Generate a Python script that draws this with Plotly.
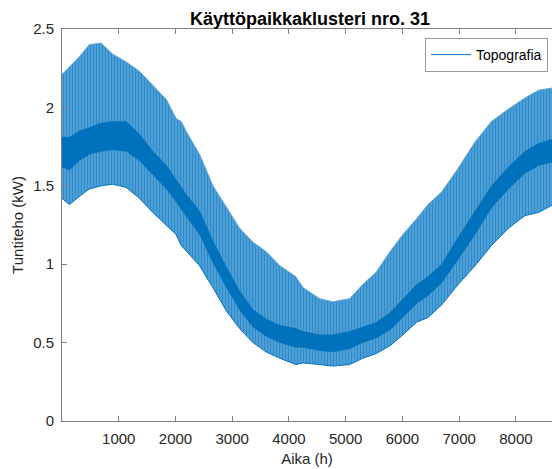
import plotly.graph_objects as go

# Hours (h) at which the envelope of the hourly load was read
hours = [0, 130, 300, 480, 690, 890, 1130, 1365, 1600, 1840, 2010, 2100, 2200,
         2425, 2660, 2900, 3130, 3365, 3600, 3840, 4120, 4250, 4540, 4770, 5070,
         5300, 5540, 5780, 6010, 6250, 6450, 6690, 6980, 7280, 7570, 7870, 8160,
         8400, 8760]
# Daily peaks (upper envelope), kW
upper = [2.21, 2.26, 2.32, 2.40, 2.41, 2.34, 2.29, 2.23, 2.14, 2.05, 1.93, 1.91, 1.84,
         1.70, 1.50, 1.36, 1.23, 1.14, 1.08, 0.99, 0.92, 0.85, 0.78, 0.76, 0.78,
         0.87, 0.95, 1.08, 1.19, 1.29, 1.38, 1.46, 1.61, 1.78, 1.91, 1.99, 2.06,
         2.11, 2.13]
# Daily minima (lower envelope), kW
lower = [1.42, 1.38, 1.43, 1.48, 1.50, 1.51, 1.49, 1.42, 1.33, 1.25, 1.19, 1.12, 1.08,
         0.99, 0.85, 0.70, 0.59, 0.50, 0.44, 0.40, 0.36, 0.37, 0.36, 0.35, 0.36,
         0.40, 0.43, 0.48, 0.55, 0.63, 0.66, 0.74, 0.87, 0.99, 1.12, 1.23, 1.31,
         1.33, 1.40]
# Dense core of the load (typical level), kW
core_hi = [1.81, 1.81, 1.85, 1.87, 1.90, 1.91, 1.91, 1.83, 1.72, 1.63, 1.54, 1.49, 1.44,
           1.34, 1.15, 0.98, 0.83, 0.71, 0.65, 0.61, 0.59, 0.57, 0.55, 0.55, 0.57,
           0.60, 0.63, 0.69, 0.78, 0.87, 0.92, 1.00, 1.17, 1.34, 1.50, 1.62, 1.72,
           1.77, 1.81]
core_lo = [1.62, 1.60, 1.66, 1.70, 1.72, 1.73, 1.72, 1.66, 1.57, 1.48, 1.40, 1.35, 1.30,
           1.19, 1.01, 0.85, 0.71, 0.60, 0.54, 0.50, 0.47, 0.47, 0.45, 0.44, 0.46,
           0.50, 0.53, 0.58, 0.66, 0.75, 0.80, 0.88, 1.03, 1.19, 1.36, 1.48, 1.58,
           1.63, 1.66]

BLUE = "#0072BD"
LIGHT = "rgb(92,166,216)"

fig = go.Figure()
fig.add_trace(go.Scatter(x=hours, y=lower, mode="lines", name="Topografia",
                         line=dict(color=BLUE, width=1), showlegend=True))
fig.add_trace(go.Scatter(x=hours, y=upper, mode="lines", fill="tonexty",
                         fillcolor=LIGHT,
                         fillpattern=dict(shape="|", fgcolor=BLUE, bgcolor=LIGHT,
                                          size=3, solidity=0.55),
                         line=dict(color=LIGHT, width=1),
                         showlegend=False))
fig.add_trace(go.Scatter(x=hours, y=core_lo, mode="lines",
                         line=dict(color=BLUE, width=0.5), showlegend=False))
fig.add_trace(go.Scatter(x=hours, y=core_hi, mode="lines", fill="tonexty",
                         fillcolor=BLUE, line=dict(color=BLUE, width=0.5),
                         showlegend=False))

axis_common = dict(showgrid=False, zeroline=False, showline=True, linecolor="#808080",
                   linewidth=1, ticks="inside", ticklen=5, tickcolor="#808080",
                   ticklabelstandoff=4,
                   tickfont=dict(family="Liberation Sans, Arial", size=15, color="#262626"))

fig.update_layout(
    width=552, height=469,
    margin=dict(l=62, r=0, t=29, b=48),
    paper_bgcolor="white", plot_bgcolor="white",
    font=dict(family="Liberation Sans, Arial", color="#262626"),
    title=dict(text="<b>Käyttöpaikkaklusteri nro. 31</b>", x=(310 - 62) / 490, xref="paper",
               xanchor="center", y=1 - 19 / 469, yref="container", yanchor="middle",
               font=dict(size=18, color="#000000")),
    xaxis=dict(range=[0, 8636], tickvals=[1000, 2000, 3000, 4000, 5000, 6000, 7000, 8000],
               mirror="ticks",
               title=dict(text="Aika (h)", font=dict(size=15), standoff=7),
               **axis_common),
    yaxis=dict(range=[0, 2.5], tickvals=[0, 0.5, 1, 1.5, 2, 2.5],
               ticktext=["0", "0.5", "1", "1.5", "2", "2.5"], mirror=False,
               title=dict(text="Tuntiteho (kW)", font=dict(size=15), standoff=5),
               **axis_common),
    legend=dict(x=(425 - 62) / 490, xanchor="left", y=1 - 9 / 392, yanchor="top",
                bordercolor="#999999", borderwidth=1, bgcolor="white",
                font=dict(size=14, color="#000000"), tracegroupgap=0,
                itemwidth=40),
    showlegend=True,
)

fig.write_html("out.html", config={"displayModeBar": False},
               post_script="document.body.style.margin='0';")
